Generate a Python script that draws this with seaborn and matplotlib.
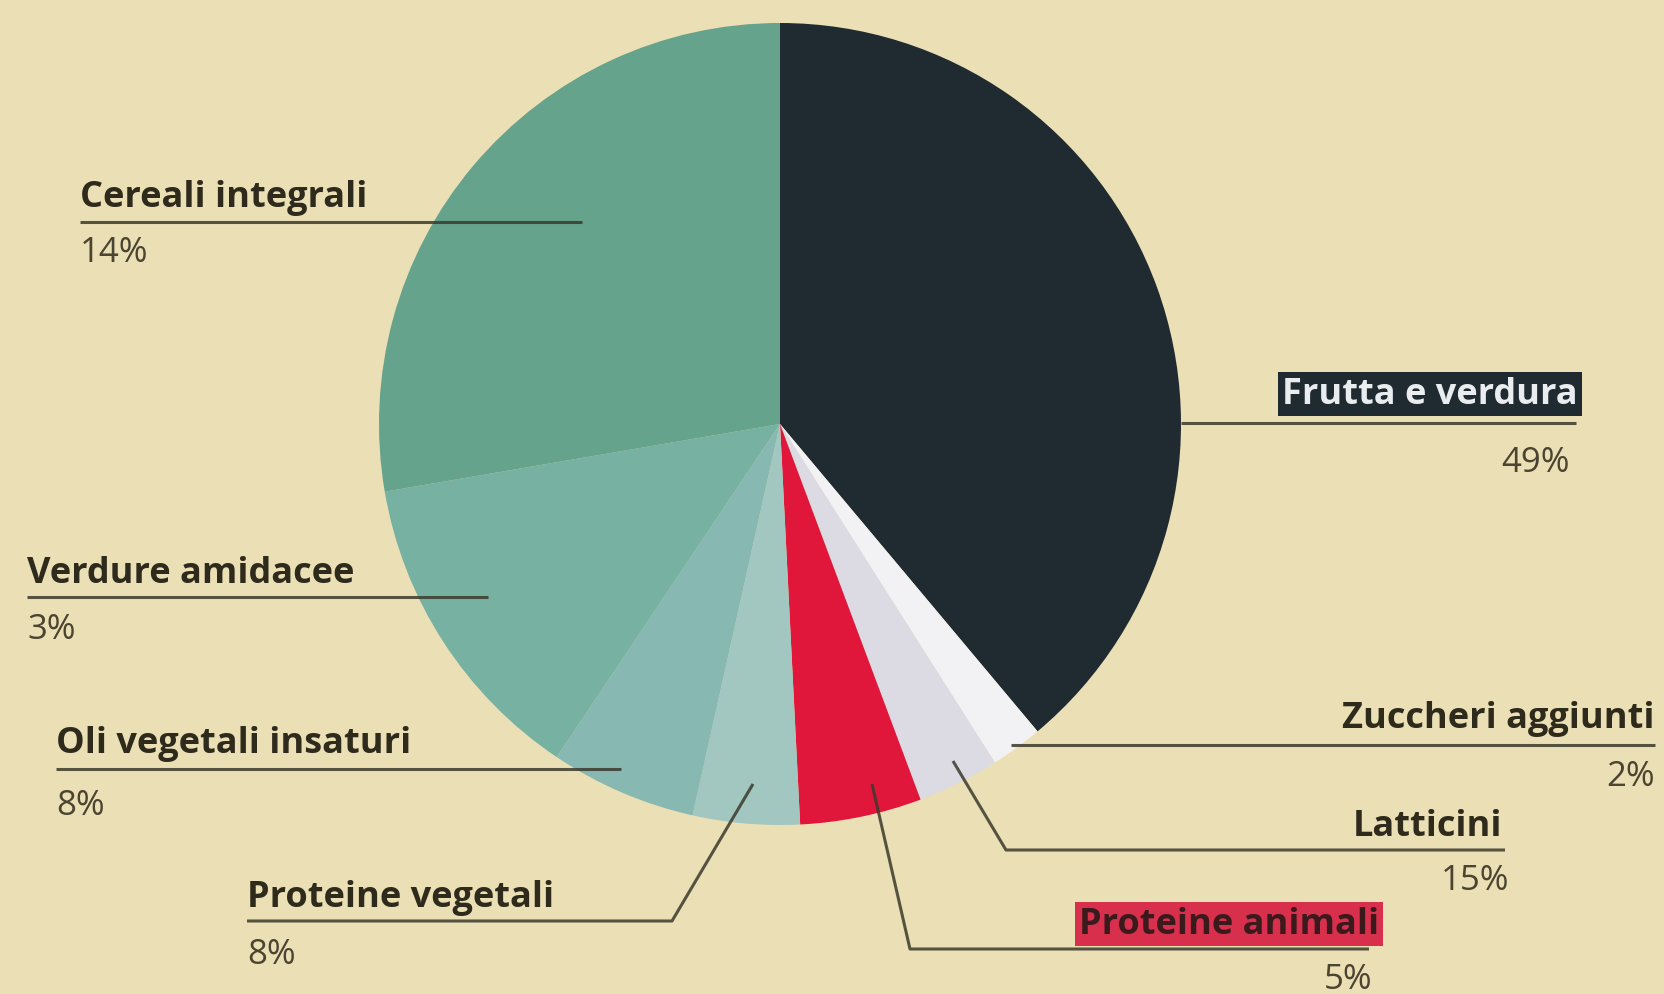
import matplotlib
matplotlib.use("Agg")
import matplotlib.pyplot as plt
import seaborn as sns

# ---- data ----
categories = ["Frutta e verdura", "Zuccheri aggiunti", "Latticini", "Proteine animali",
              "Proteine vegetali", "Oli vegetali insaturi", "Verdure amidacee", "Cereali integrali"]
# slice sizes as drawn (share of the circle, %)
shares = [38.9, 2.1, 3.3, 4.9, 4.3, 5.9, 12.9, 27.7]
# percentages printed next to the labels
pct_labels = ["49%", "2%", "15%", "5%", "8%", "8%", "3%", "14%"]

colors = ["#1f2a31", "#f2f1f3", "#dcdbe3", "#e0173b",
          "#a2c6c0", "#88b8b2", "#76b1a2", "#65a38d"]
BG = "#ebdfb5"
TXT = "#2e2a1c"
PCT = "#4a4430"
LINE = "#3b3a2c"

W, H = 1664, 995
sns.set_theme(style="white")
plt.rcParams['font.family'] = ['Open Sans', 'DejaVu Sans']

fig = plt.figure(figsize=(W / 100, H / 100), dpi=100)
fig.patch.set_facecolor(BG)
ax = fig.add_axes([0, 0, 1, 1])
ax.set_facecolor(BG)

# pie: screen y grows downward, so go counterclockwise in data = clockwise on screen
ax.pie(shares, colors=colors, center=(780, 425), radius=401,
       startangle=-90, counterclock=True,
       wedgeprops=dict(linewidth=0, antialiased=True))
ax.set_xlim(0, W)
ax.set_ylim(H, 0)
ax.set_aspect('equal')
ax.axis('off')

# ---- label layout (pixel positions of annotations) ----
# name: (text x, text y, ha, pct x, pct y, leader path)
layout = {
    "Cereali integrali":     (80, 198, 'left', 80, 253, [(80, 223), (582, 223)]),
    "Verdure amidacee":      (27, 574, 'left', 27, 630, [(27, 598), (488, 598)]),
    "Oli vegetali insaturi": (56, 744, 'left', 56, 806, [(56, 770), (621, 770)]),
    "Proteine vegetali":     (247, 898, 'left', 247, 955, [(247, 922), (672, 922), (753, 785)]),
    "Proteine animali":      (1379, 925, 'right', 1372, 980, [(1369, 950), (910, 950), (872, 785)]),
    "Latticini":             (1502, 827, 'right', 1509, 881, [(1505, 851), (1006, 851), (953, 762)]),
    "Zuccheri aggiunti":     (1655, 719, 'right', 1655, 777, [(1655, 746), (1011, 746)]),
    "Frutta e verdura":      (1578, 395, 'right', 1570, 463, [(1181, 424), (1576, 424)]),
}

for cat, pct in zip(categories, pct_labels):
    tx, ty, ha, px, py, path = layout[cat]
    xs = [p[0] for p in path]
    ys = [p[1] for p in path]
    ax.plot(xs, ys, color=LINE, lw=2.2, alpha=0.85, solid_capstyle='butt', zorder=5)
    kw = dict(fontsize=26, fontweight='bold', ha=ha, va='center', zorder=6)
    if cat == "Frutta e verdura":
        ax.text(tx, ty, cat, color="#e9edf0",
                bbox=dict(boxstyle='square,pad=0.12', fc="#1f2a31", ec='none'), **kw)
    elif cat == "Proteine animali":
        ax.text(tx, ty, cat, color="#3a1a1c",
                bbox=dict(boxstyle='square,pad=0.12', fc="#d8304c", ec='none'), **kw)
    else:
        ax.text(tx, ty, cat, color=TXT, **kw)
    ax.text(px, py, pct, color=PCT, fontsize=25, ha=ha, va='center', zorder=6)

fig.savefig("out.png", dpi=100, facecolor=BG)
